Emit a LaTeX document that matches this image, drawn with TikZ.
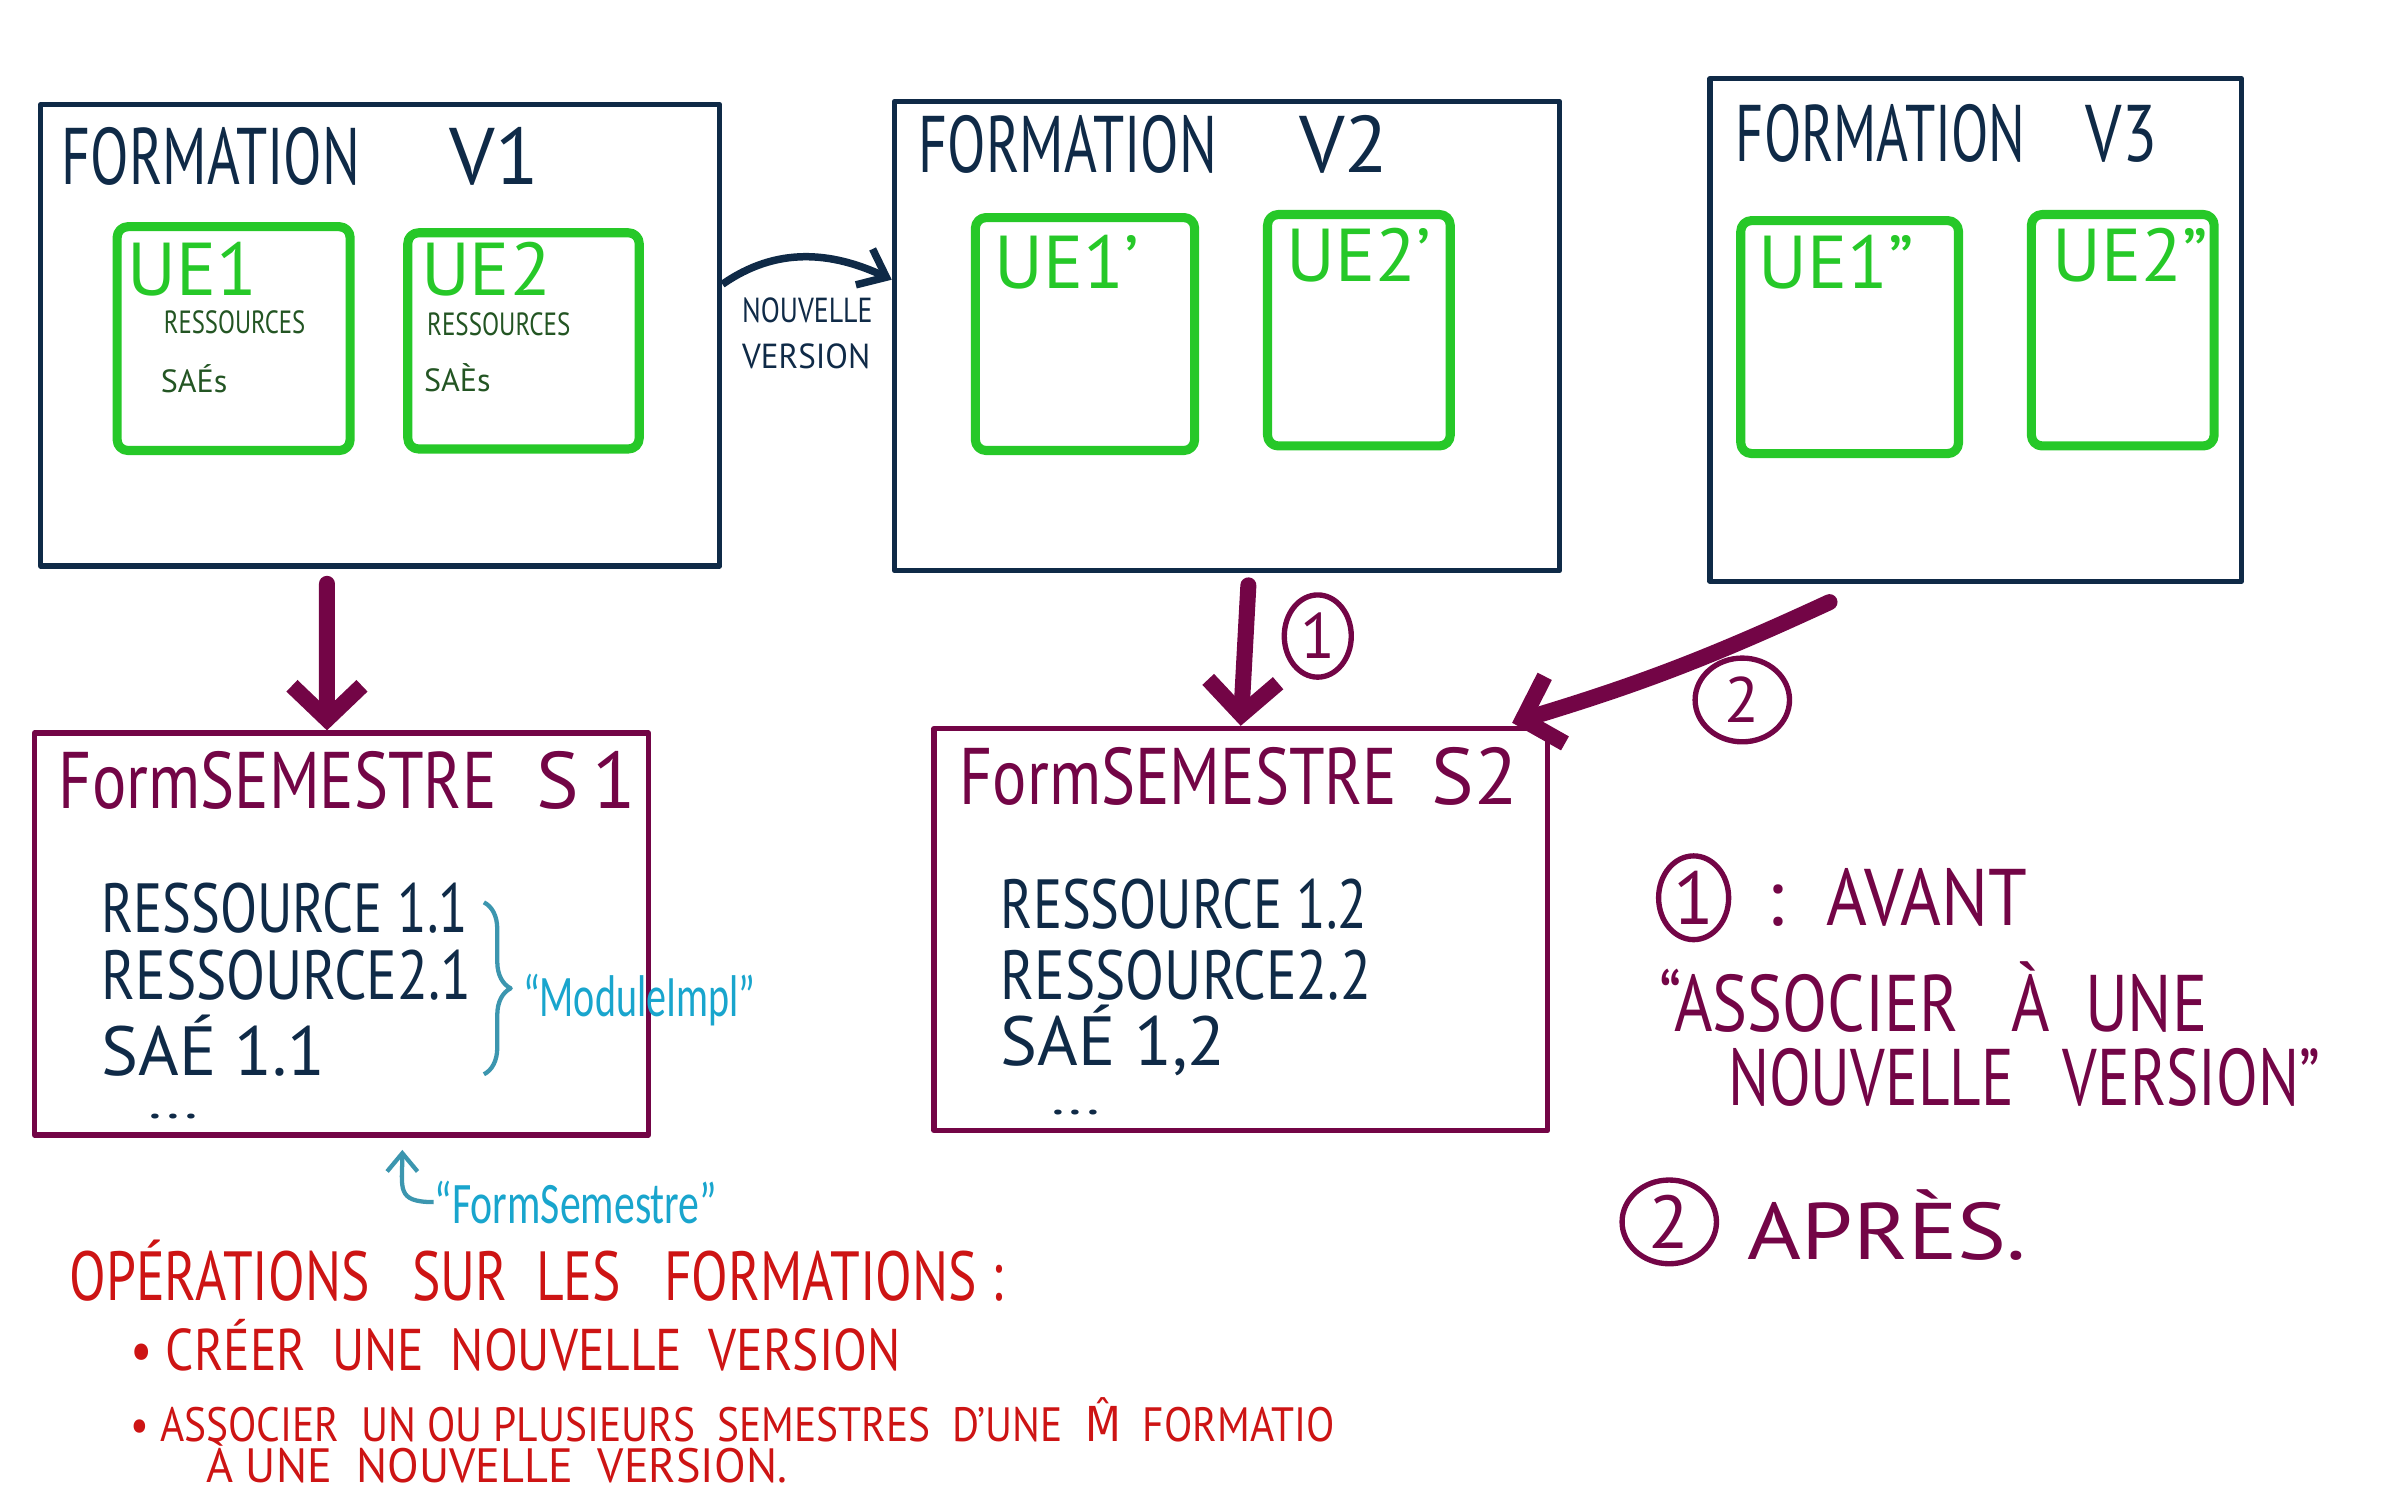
\documentclass[tikz,border=0pt]{standalone}
\usepackage{fontspec}
\usepackage{graphicx}
\setmainfont{PT Sans}
\newfontfamily\typed{Carlito}
\newfontfamily\djv{DejaVu Sans}
\usetikzlibrary{arrows.meta,decorations.pathreplacing,shapes.geometric,positioning}
\definecolor{navy}{RGB}{15,42,71}
\definecolor{uegreen}{RGB}{38,200,40}
\definecolor{dgreen}{RGB}{35,85,35}
\definecolor{maroon}{RGB}{115,5,70}
\definecolor{cyanlab}{RGB}{25,165,205}
\definecolor{bracecol}{RGB}{60,150,175}
\definecolor{opred}{RGB}{205,20,20}
\def\fsz#1{\fontsize{#1}{#1}\selectfont}
\def\sq#1#2{\scalebox{#1}[1]{#2}}
\def\dmar{\draw[semarrow]}
\tikzset{
  formbox/.style={draw=navy, line width=1pt, anchor=north west, inner sep=0pt},
  uebox/.style={draw=uegreen, line width=1.7pt, anchor=north west, inner sep=0pt, rounded corners=2pt},
  sembox/.style={draw=maroon, line width=1pt, anchor=north west, inner sep=0pt},
  txt/.style={anchor=west, inner sep=0pt},
  ftitle/.style={txt, text=navy, font=\fsz{15}},
  uetitle/.style={txt, text=uegreen, font=\fsz{14}},
  uesmall/.style={txt, text=dgreen, font=\fsz{6}},
  stitle/.style={txt, text=maroon, font=\fsz{15}},
  sline/.style={txt, text=navy, font=\fsz{13}},
  legend/.style={txt, text=maroon, font=\fsz{15}},
  opline/.style={txt, text=opred, font=\fsz{12}},
  typedlab/.style={txt, text=cyanlab, font=\typed\fsz{11}},
  numring/.style={ellipse, draw=maroon, line width=1pt, text=maroon, inner sep=0pt, font=\fsz{12}},
  semarrow/.style={maroon, line width=3pt, line cap=round, -{Straight Barb[length=2.2mm, width=4.6mm]}},
  navyarrow/.style={navy, line width=1.4pt, -{Straight Barb[length=1.6mm, width=2.6mm]}},
  tealarrow/.style={bracecol, line width=0.8pt, -{Straight Barb[length=1.2mm, width=2mm]}}
}
\begin{document}
\begin{tikzpicture}[x=0.01cm, y=-0.01cm, line join=round]
\useasboundingbox (0,0) rectangle (1568,980);

% formations
\node[formbox, minimum width=4.46cm, minimum height=3.03cm] (f1) at (25,67) {};
\node[formbox, minimum width=4.37cm, minimum height=3.08cm] (f2) at (586,65) {};
\node[formbox, minimum width=3.49cm, minimum height=3.30cm] (f3) at (1122,50) {};
\node[ftitle] (t1) at (40,103) {\sq{0.7}{FORMATION}};
\node[ftitle] (v1) at (295,103) {V1};
\node[ftitle] (t2) at (603,95) {\sq{0.7}{FORMATION}};
\node[ftitle] (v2) at (853,95) {V2};
\node[ftitle] (t3) at (1140,88) {\sq{0.68}{FORMATION}};
\node[ftitle] (v3) at (1370,88) {\sq{0.8}{V3}};

% UE
\node[uebox, minimum width=1.53cm, minimum height=1.47cm] (ue1) at (74,146) {};
\node[uebox, minimum width=1.52cm, minimum height=1.42cm] (ue2) at (265,150) {};
\node[uebox, minimum width=1.44cm, minimum height=1.53cm] (ue1a) at (638,140) {};
\node[uebox, minimum width=1.20cm, minimum height=1.52cm] (ue2a) at (830,138) {};
\node[uebox, minimum width=1.43cm, minimum height=1.53cm] (ue1b) at (1141,142) {};
\node[uebox, minimum width=1.20cm, minimum height=1.52cm] (ue2b) at (1332,138) {};
\node[uetitle] (u1) at (83,177) {UE1};
\node[uesmall] (r1) at (107,212) {\sq{0.77}{RESSOURCES}};
\node[uesmall] (s1a) at (105,249) {SAÉs};
\node[uetitle] (u2) at (276,177) {UE2};
\node[uesmall] (r2) at (280,213) {\sq{0.78}{RESSOURCES}};
\node[uesmall] (s2a) at (278,248) {SAÈs};
\node[uetitle] (u1a) at (653,172) {UE1’};
\node[uetitle] (u2a) at (845,168) {UE2’};
\node[uetitle] (u1b) at (1155,172) {UE1”};
\node[uetitle] (u2b) at (1348,168) {UE2”};

% nouvelle version
\draw[navyarrow] ([yshift=0.335cm]f1.east) to[out=35, in=155] ([yshift=0.37cm]f2.west);
\node[txt, text=navy, font=\fsz{6.5}, align=left] (nv) at (487,219) {\sq{0.8}{NOUVELLE}\\[0.6ex]\sq{0.95}{VERSION}};

% semestres
\node[sembox, minimum width=4.03cm, minimum height=2.64cm] (s1) at (21,480) {};
\node[sembox, minimum width=4.03cm, minimum height=2.64cm] (s2) at (612,477) {};
\node[stitle] (st1) at (38,513) {\sq{0.8}{FormSEMESTRE}};
\node[stitle] (sn1) at (352,513) {S\,1};
\node[stitle] (st2) at (630,510) {\sq{0.8}{FormSEMESTRE}};
\node[stitle] (sn2) at (940,510) {S2};
\node[sline] (a1) at (66,597) {\sq{0.78}{RESSOURCE 1.1}};
\node[sline] (b1) at (66,641) {\sq{0.82}{RESSOURCE2.1}};
\node[sline] (c1) at (66,687) {SAÉ 1.1};
\node[sline, font=\fsz{8}] (d1) at (97,734) {\sq{1.5}{...}};
\node[sline] (a2) at (657,594) {\sq{0.78}{RESSOURCE 1.2}};
\node[sline] (b2) at (657,641) {\sq{0.82}{RESSOURCE2.2}};
\node[sline] (c2) at (657,684) {SAÉ 1,2};
\node[sline, font=\fsz{8}] (d2) at (690,731) {\sq{1.5}{...}};

% brace + labels
\draw[bracecol, line width=0.8pt, decorate, decoration={brace, amplitude=5pt}] (318,593) -- (318,706);
\node[typedlab] (mi) at (343,657) {\sq{0.68}{“ModuleImpl”}};
\node[typedlab] (fsl) at (285,790) {\sq{0.71}{“FormSemestre”}};
\draw[tealarrow] (fsl.west) .. controls +(-25,0) and +(0,25) .. ([xshift=0.4cm, yshift=-0.08cm]s1.south);

% arrows
\dmar ([xshift=-0.35cm, yshift=-0.1cm]f1.south) -- ([xshift=-0.095cm]s1.north);
\dmar ([xshift=0.14cm, yshift=-0.08cm]f2.south) -- (s2.north);
\dmar ([xshift=-0.96cm, yshift=-0.12cm]f3.south) to[bend left=4] ([xshift=-0.25cm, yshift=0.02cm]s2.north east);
\node[numring, minimum width=0.44cm, minimum height=0.54cm] (n1) at (866,418) {1};
\node[numring, minimum width=0.62cm, minimum height=0.55cm] (n2) at (1145,460) {2};

% legende
\node[numring, minimum width=0.46cm, minimum height=0.55cm, font=\fsz{14}] (l1) at (1113,590) {1};
\node[legend] (av) at (1160,590) {:\ \ \sq{0.87}{AVANT}};
\node[legend] (as1) at (1090,655) {\sq{0.82}{“ASSOCIER\ \ \ À\ \ UNE}};
\node[legend] (as2) at (1135,708) {\sq{0.76}{NOUVELLE\ \ \ VERSION”}};
\node[numring, minimum width=0.62cm, minimum height=0.55cm, font=\fsz{14}] (l2) at (1097,803) {2};
\node[legend] (ap) at (1148,805) {\sq{1.15}{APRÈS.}};

% operations
\node[opline, font=\fsz{13}] (op) at (45,835) {\sq{0.77}{OPÉRATIONS\ \ \ SUR\ \ LES\ \ \ FORMATIONS :}};
\node[opline, font=\fsz{11}] (o1) at (85,884) {\sq{0.84}{•\ CRÉER\ \ UNE\ \ NOUVELLE\ \ VERSION}};
\node[opline, font=\fsz{9}] (o2) at (85,933) {\sq{0.86}{•\ ASSOCIER\ \ UN OU PLUSIEURS\ \ SEMESTRES\ \ D’UNE\ \ {\djv M̂}\ \ FORMATIO}};
\node[opline, font=\fsz{9}] (o3) at (135,961) {\sq{0.96}{À UNE\ \ NOUVELLE\ \ VERSION.}};
\end{tikzpicture}
\end{document}
